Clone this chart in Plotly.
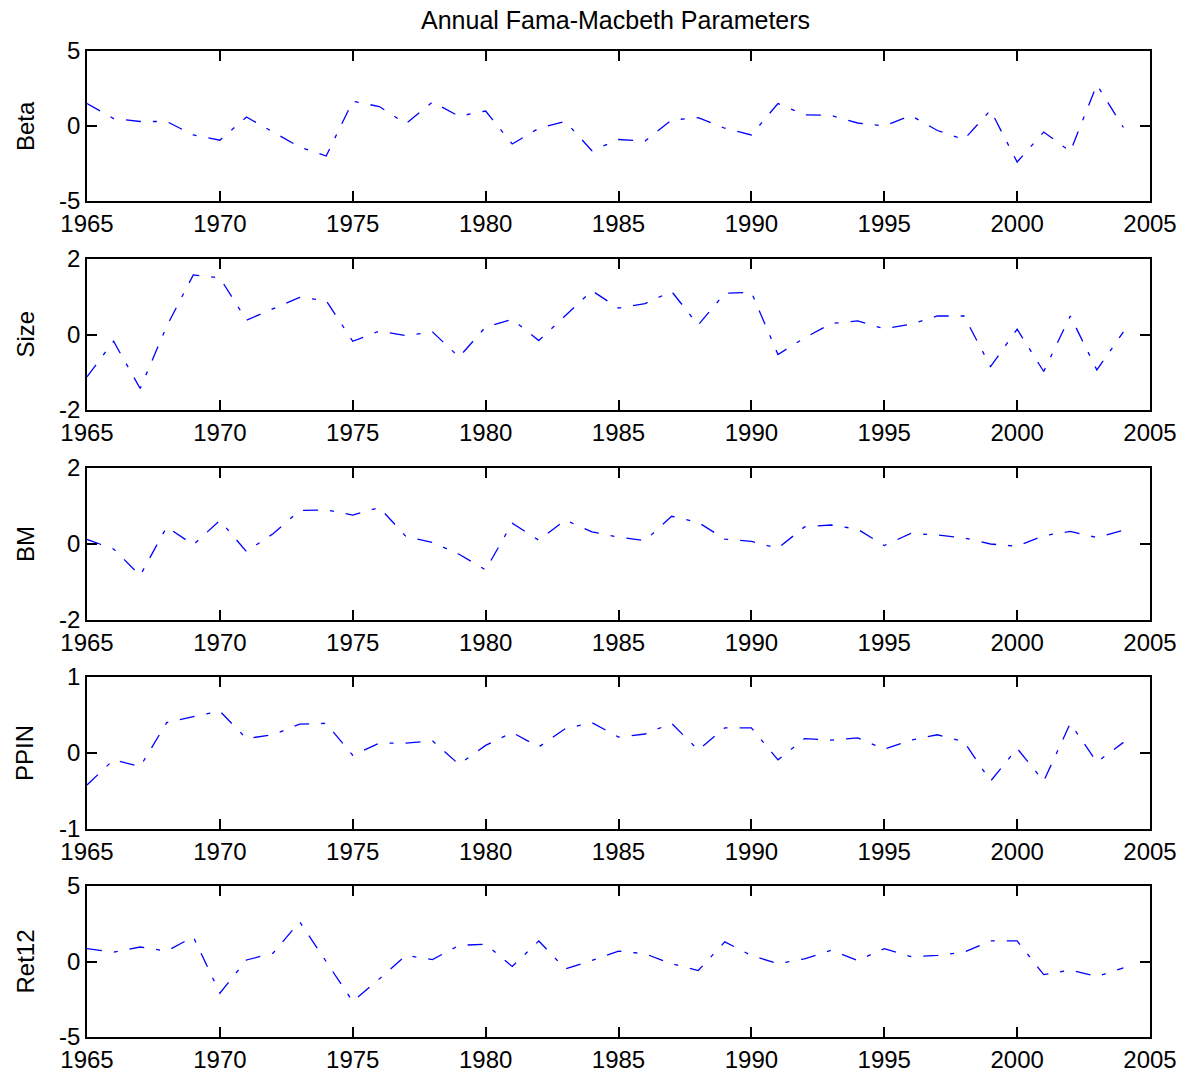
import plotly.graph_objects as go
from plotly.subplots import make_subplots

years = list(range(1965, 2005))

beta = [1.5, 0.5, 0.3, 0.3, -0.6, -0.95, 0.6, -0.4, -1.4, -2.0,
        1.65, 1.3, 0.15, 1.6, 0.65, 1.0, -1.2, -0.15, 0.3, -1.65,
        -0.9, -1.0, 0.4, 0.55, -0.15, -0.6, 1.5, 0.75, 0.7, 0.2,
        0.0, 0.7, -0.3, -0.9, 1.05, -2.4, -0.4, -1.7, 2.75, -0.1]

size = [-1.12, -0.18, -1.43, 0.22, 1.58, 1.5, 0.38, 0.67, 0.98, 0.9,
        -0.18, 0.09, -0.03, 0.07, -0.6, 0.2, 0.4, -0.16, 0.5, 1.16,
        0.7, 0.82, 1.14, 0.25, 1.09, 1.12, -0.53, -0.09, 0.29, 0.36,
        0.15, 0.27, 0.49, 0.49, -0.85, 0.14, -0.98, 0.49, -0.94, 0.07]

bm = [0.12, -0.13, -0.83, 0.45, -0.02, 0.62, -0.2, 0.27, 0.88, 0.9,
      0.76, 0.96, 0.2, 0.04, -0.27, -0.68, 0.55, 0.1, 0.63, 0.32,
      0.18, 0.09, 0.73, 0.57, 0.13, 0.07, -0.11, 0.45, 0.5, 0.39,
      -0.04, 0.28, 0.24, 0.16, 0.0, -0.06, 0.22, 0.33, 0.17, 0.36]

ppin = [-0.42, -0.09, -0.18, 0.4, 0.48, 0.55, 0.19, 0.24, 0.38, 0.39,
        -0.03, 0.13, 0.13, 0.16, -0.15, 0.1, 0.27, 0.08, 0.32, 0.4,
        0.21, 0.25, 0.39, 0.04, 0.33, 0.33, -0.09, 0.19, 0.17, 0.2,
        0.05, 0.17, 0.24, 0.15, -0.37, 0.06, -0.37, 0.39, -0.12, 0.14]

ret12 = [0.85, 0.62, 0.96, 0.69, 1.63, -2.1, 0.1, 0.55, 2.63, -0.05,
         -2.65, -1.15, 0.4, 0.13, 1.07, 1.14, -0.33, 1.36, -0.49, 0.07,
         0.69, 0.51, -0.15, -0.6, 1.3, 0.4, -0.15, 0.18, 0.74, 0.07,
         0.85, 0.33, 0.4, 0.62, 1.36, 1.36, -0.87, -0.56, -1.0, -0.42]

labels = ["Beta", "Size", "BM", "PPIN", "Ret12"]
series = [beta, size, bm, ppin, ret12]
y_tickvals = [[-5, 0, 5], [-2, 0, 2], [-2, 0, 2], [-1, 0, 1], [-5, 0, 5]]
y_ticktext = [["-5", "0", "5"], ["-2", "0", "2"], ["-2", "0", "2"], ["-1", "0", "1"], ["-5", "0", "5"]]
x_ticks = [1965, 1970, 1975, 1980, 1985, 1990, 1995, 2000, 2005]

# page has an 8px body margin; work in figure coordinates
OFF = 8
W, H = 1185 - 2 * OFF, 1078 - 2 * OFF
L = 87 - OFF
R = W - (1150 - OFF)
T = 51 - OFF
B = H - (1037 - OFF)
plot_h = H - T - B
plot_w = W - L - R
frames = [(51, 201), (259, 410), (468, 620), (677, 829), (886, 1037)]
frames = [(a - OFF, b - OFF) for a, b in frames]

FONT = "Liberation Sans, Arial, sans-serif"
TICK_SIZE = 24

fig = make_subplots(rows=5, cols=1)

for i, (name, vals) in enumerate(zip(labels, series)):
    r = i + 1
    fig.add_trace(go.Scatter(x=years, y=vals, mode="lines", name=name,
                             line=dict(color="#0000FF", width=1.3, dash="15px,12px,4px,12px"),
                             showlegend=False), row=r, col=1)
    top, bot = frames[i]
    dom = [(H - B - bot) / plot_h, (H - B - top) / plot_h]
    axis_common = dict(showline=True, linecolor="black", linewidth=1.5, mirror="ticks",
                       ticks="inside", ticklen=10, tickwidth=1.5, tickcolor="black",
                       showgrid=False, zeroline=False,
                       tickfont=dict(family=FONT, size=TICK_SIZE, color="black"))
    fig.update_xaxes(range=[1965, 2005], tickvals=x_ticks, row=r, col=1, **axis_common)
    fig.update_yaxes(range=[y_tickvals[i][0], y_tickvals[i][-1]], tickvals=y_tickvals[i],
                     ticktext=y_ticktext[i], domain=dom, row=r, col=1, **axis_common)
    fig.add_annotation(text=name, xref="paper", yref="paper",
                       x=(25 - OFF - L) / plot_w, y=(H - B - (top + bot) / 2) / plot_h,
                       textangle=-90, showarrow=False, xanchor="center", yanchor="middle",
                       font=dict(family=FONT, size=TICK_SIZE, color="black"))

fig.add_annotation(text="Annual Fama-Macbeth Parameters", xref="paper", yref="paper",
                   x=(615 - OFF - L) / plot_w, y=(H - B - (20 - OFF)) / plot_h, showarrow=False,
                   xanchor="center", yanchor="middle",
                   font=dict(family=FONT, size=25, color="black"))

fig.update_layout(width=W, height=H, margin=dict(l=L, r=R, t=T, b=B, autoexpand=False),
                  paper_bgcolor="white", plot_bgcolor="white")

fig.write_html("out.html")
